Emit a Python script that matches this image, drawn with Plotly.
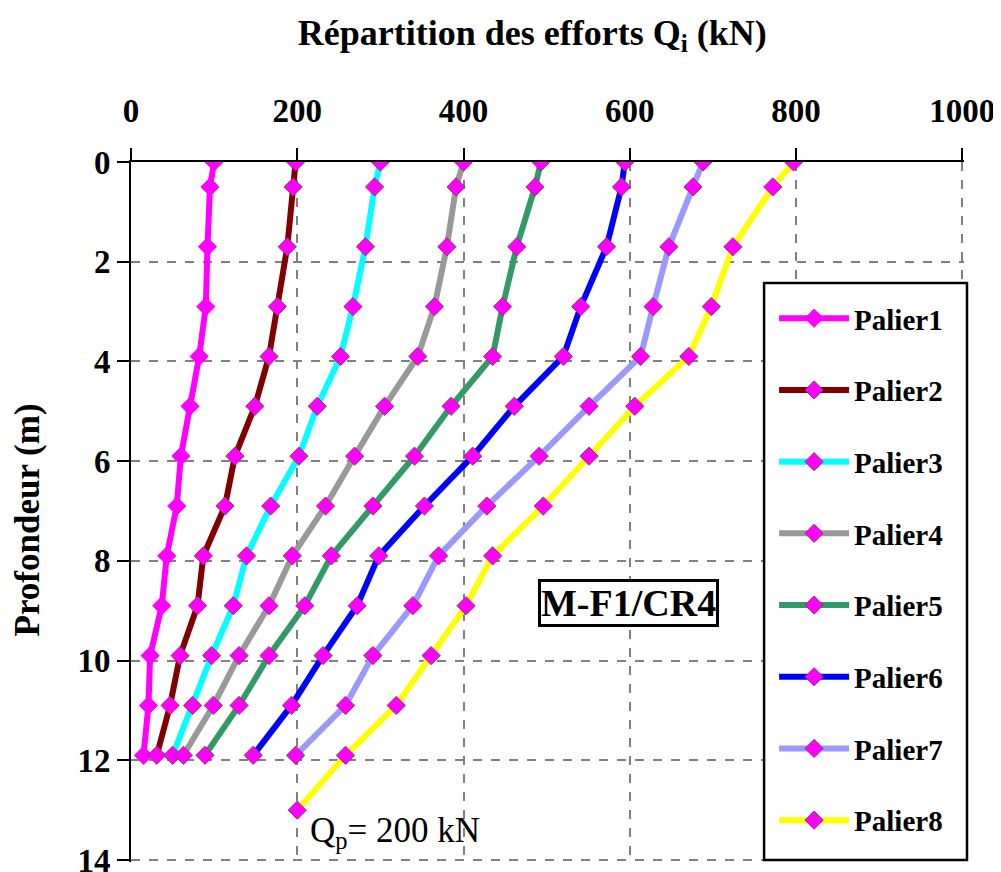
import plotly.graph_objects as go

# depths (m) of the measuring points
depth = [0, 0.5, 1.7, 2.9, 3.9, 4.9, 5.9, 6.9, 7.9, 8.9, 9.9, 10.9, 11.9]
depth8 = depth + [13]

palier1 = [100, 95, 92, 90, 82, 71, 60, 55, 43, 37, 23, 21, 15]
palier2 = [198, 195, 188, 176, 166, 149, 125, 113, 87, 80, 59, 47, 31]
palier3 = [300, 293, 282, 267, 252, 224, 202, 168, 139, 123, 97, 74, 50]
palier4 = [400, 391, 380, 365, 345, 305, 269, 234, 194, 166, 130, 99, 63]
palier5 = [493, 486, 464, 447, 435, 385, 341, 291, 241, 209, 166, 130, 89]
palier6 = [594, 590, 572, 541, 520, 461, 411, 353, 298, 272, 231, 193, 147]
palier7 = [688, 676, 647, 628, 613, 551, 491, 428, 370, 339, 291, 258, 198]
palier8 = [797, 772, 724, 698, 671, 606, 551, 496, 435, 403, 361, 319, 258, 200]

names = ["Palier1", "Palier2", "Palier3", "Palier4",
         "Palier5", "Palier6", "Palier7", "Palier8"]
series = [palier1, palier2, palier3, palier4, palier5, palier6, palier7, palier8]
colors = ["#ff00ff", "#800000", "#00ffff", "#999999",
          "#339966", "#0000ff", "#9999ff", "#ffff00"]

FONT = "Liberation Serif, Times New Roman, serif"

fig = go.Figure()

for i, (name, vals, col) in enumerate(zip(names, series, colors)):
    y = depth8 if len(vals) == len(depth8) else depth
    mline = col if i == 0 else "#993366"
    fig.add_trace(go.Scatter(
        x=vals, y=y, mode="lines+markers", name=name,
        legendgroup=name,
        line=dict(color=col, width=6),
        marker=dict(symbol="diamond", size=14, color="#ff00ff",
                    line=dict(color=mline, width=1)),
    ))

fig.add_annotation(
    x=599, y=8.85, xref="x", yref="y", text="M-F1/CR4",
    showarrow=False,
    font=dict(family=FONT, size=38, color="black", weight="bold"),
    bgcolor="white", bordercolor="black", borderwidth=3, borderpad=0,
)
fig.add_annotation(
    x=213, y=13.45, xref="x", yref="y", text="Q<sub>p</sub>= 200 kN",
    showarrow=False, xanchor="left",
    font=dict(family=FONT, size=35, color="black"),
)
# y axis title
fig.add_annotation(
    x=-0.124, y=0.489, xref="paper", yref="paper", text="Profondeur (m)",
    showarrow=False, textangle=-90, xanchor="center", yanchor="middle",
    font=dict(family=FONT, size=35, color="black", weight="bold"),
)
# legend frame
fig.add_shape(
    type="rect", xref="paper", yref="paper",
    x0=0.760, x1=1.0036, y0=0.003, y1=0.827,
    line=dict(color="black", width=2.5), fillcolor="white", layer="above",
)

fig.update_layout(
    width=993, height=864,
    paper_bgcolor="white", plot_bgcolor="white",
    margin=dict(l=123, r=37, t=154, b=10),
    font=dict(family=FONT, color="black"),
    title=dict(
        text="Répartition des efforts Q<sub>i</sub> (kN)",
        x=0.528, xanchor="center", y=0.972, yanchor="middle",
        font=dict(family=FONT, size=36, color="black", weight="bold"),
    ),
    legend=dict(
        x=0.772, y=0.813, xanchor="left", yanchor="top",
        bgcolor="rgba(0,0,0,0)", borderwidth=0,
        font=dict(family=FONT, size=29, color="black", weight="bold"),
        tracegroupgap=31, itemwidth=70,
    ),
)

fig.update_xaxes(
    side="top", range=[0, 1002], tickvals=[0, 200, 400, 600, 800, 1000],
    tickfont=dict(family=FONT, size=33, color="black", weight="bold"),
    showline=True, linecolor="black", linewidth=2,
    ticks="outside", ticklen=12, tickcolor="black", tickwidth=2,
    ticklabelstandoff=13, automargin=False, ticklabeloverflow="allow",
    showgrid=True, gridcolor="#808080", griddash="dash", gridwidth=1.5,
    zeroline=False,
)
fig.update_yaxes(
    range=[14.04, 0], tickvals=[0, 2, 4, 6, 8, 10, 12, 14],
    tickfont=dict(family=FONT, size=33, color="black", weight="bold"),
    showline=True, linecolor="black", linewidth=2,
    ticks="outside", ticklen=12, tickcolor="black", tickwidth=2,
    ticklabelstandoff=0, automargin=False, ticklabeloverflow="allow",
    showgrid=True, gridcolor="#808080", griddash="dash", gridwidth=1.5,
    zeroline=False,
)

fig.write_html("out.html")
